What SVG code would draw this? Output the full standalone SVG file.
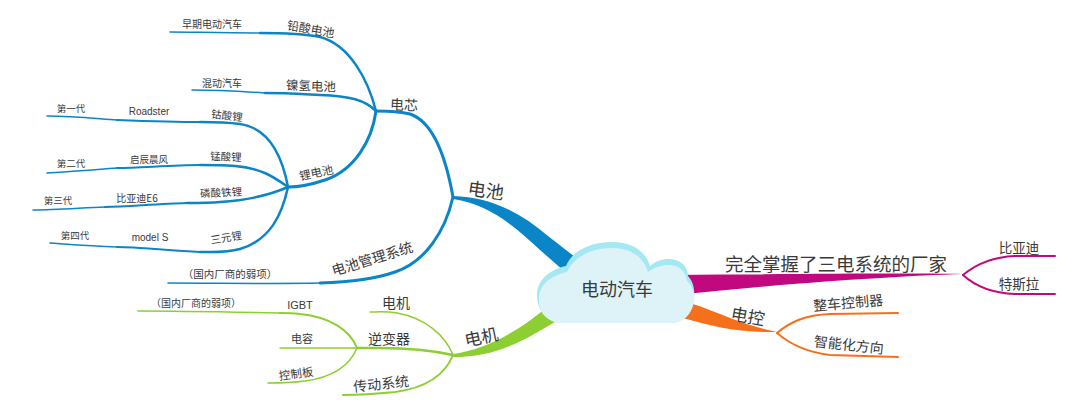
<svg xmlns="http://www.w3.org/2000/svg" width="1080" height="402" viewBox="0 0 1080 402">
<defs>
<style>
text{font-family:"Noto Sans CJK SC","Liberation Sans",sans-serif;fill:#3a3a3a;text-anchor:middle;dominant-baseline:central}
.lat{font-family:"Liberation Sans","Noto Sans CJK SC",sans-serif}
.b{fill:none;stroke:#0a86c8;stroke-linecap:round}
.g{fill:none;stroke:#8dcf32;stroke-linecap:round}
.m{fill:none;stroke:#c2087e;stroke-linecap:round}
.o{fill:none;stroke:#f5701a;stroke-linecap:round}
.w3{stroke-width:3}
.w25{stroke-width:2.5}
.w2{stroke-width:2}
.w15{stroke-width:1.5}
.s18{font-size:18px}.s14{font-size:14px}.s12{font-size:12px}.s11{font-size:11px}.s10{font-size:10px}
</style>
<clipPath id="cloudClip">
<path id="cloudShape" d="M558,323 C545,320 537,310 537,295 C537,281 548,270 566,266 C572,251 590,242 612,242 C633,242 646,252 650,266 C656,261 662,259 668,259 C680,259 688,266 688,276 C694,282 695,292 694,300 C693,312 685,322 672,323 Z"/>
</clipPath>
</defs>
<rect width="1080" height="402" fill="#ffffff"/>

<g id="connectors">
<!-- thick main branches -->
<path d="M453,196 C490,197 520,212 548,236 L584,264 L572,278 L540,250 C512,224 488,204 453,199 Z" fill="#0a86c8"/>
<path d="M453,354 C480,350 505,338 528,322 L553,303 L562,318 L536,333 C510,348 485,357 453,357 Z" fill="#8dcf32"/>
<path d="M675,275 C800,274 900,273 963,274 C900,276 800,282 675,295 Z" fill="#c2087e"/>
<path d="M683,301 C710,308 740,325 777,332 C740,333 710,326 683,318 Z" fill="#f5701a"/>

<!-- battery subtree -->
<path class="b w3" d="M453,197 C446,158 434,122 410,114 C398,111 386,111 376,111"/>
<path class="b w3" d="M453,197 C445,232 425,262 395,272 C375,279 350,282 320,283"/>
<path class="b w15" d="M320,283 C270,284 220,283 168,283"/>

<path class="b w25" d="M376,111 C368,80 350,45 320,37 C300,33 280,33 260,33"/>
<path class="b w15" d="M260,33 C220,33 190,32 170,32"/>
<path class="b w25" d="M376,111 C365,100 350,96 320,95 C300,94 285,93 265,93"/>
<path class="b w15" d="M265,93 C235,91 210,90 192,90"/>
<path class="b w3" d="M376,111 C372,140 355,170 325,180 C310,185 298,187 288,187"/>

<path class="b w25" d="M288,187 C282,155 268,128 240,124 C225,122 212,122 200,122"/>
<path class="b w2" d="M200,122 C175,122 145,121 117,120"/>
<path class="b w15" d="M117,120 C100,119 75,116 47,116"/>

<path class="b w25" d="M288,187 C275,178 262,168 235,166 C222,165 210,165 200,165"/>
<path class="b w2" d="M200,165 C170,165 140,168 117,168"/>
<path class="b w15" d="M117,168 C90,170 65,172 47,173"/>

<path class="b w25" d="M288,187 C270,195 250,200 220,202 C210,203 200,203 187,203"/>
<path class="b w2" d="M187,203 C160,204 130,206 105,207"/>
<path class="b w15" d="M105,207 C80,208 55,210 33,210"/>

<path class="b w25" d="M288,187 C282,215 270,240 240,249 C226,253 212,252 200,252"/>
<path class="b w2" d="M200,252 C170,251 140,247 117,247"/>
<path class="b w15" d="M117,247 C90,246 65,244 50,243"/>

<!-- motor subtree -->
<path class="g w15" d="M453,355 C445,335 425,318 397,313 C385,311 377,312 370,312"/>
<path class="g w25" d="M453,355 C430,350 410,348 380,348 L357,348"/>
<path class="g w2" d="M453,355 C445,375 425,388 395,392 C375,394 360,395 343,395"/>
<path class="g w2" d="M357,348 C350,330 330,317 300,314 C292,313 285,313 280,313"/>
<path class="g w15" d="M280,313 C230,312 180,311 138,311"/>
<path class="g w15" d="M357,348 L280,348"/>
<path class="g w15" d="M357,348 C350,365 335,377 305,381 C290,383 278,383 268,383"/>

<!-- right side -->
<path class="m w2" d="M963,275 C975,265 990,257 1015,256 L1055,256"/>
<path class="m w2" d="M963,275 C975,286 990,293 1015,294 L1055,294"/>
<path class="o w2" d="M777,333 C790,322 805,315 830,314 L898,313"/>
<path class="o w2" d="M777,333 C790,344 805,352 830,355 L898,357"/>
</g>

<g id="center">
<use href="#cloudShape" fill="#a4e8f4"/>
<g clip-path="url(#cloudClip)">
<path d="M558,327 C545,324 539,314 539,299 C539,285 550,276 567,272 C574,257 591,248 612,248 C632,248 644,258 648,272 C655,267 662,265 668,265 C679,265 686,271 687,281 C693,286 695,294 694,302 C693,314 685,324 672,327 Z" fill="#ddf3f8"/>
</g>
<text x="617" y="288" class="s18">电动汽车</text>
</g>

<g id="n-battery"><text x="486" y="189" class="s18" transform="rotate(8 486 189)">电池</text></g>
<g id="n-cell"><text x="404" y="104" class="s14" transform="rotate(3 404 104)">电芯</text></g>
<g id="n-lead"><text x="311" y="28" class="s12" transform="rotate(10 311 28)">铅酸电池</text></g>
<g id="n-early"><text x="212" y="23" class="s10">早期电动汽车</text></g>
<g id="n-nimh"><text x="311" y="85" style="font-size:12.5px" transform="rotate(2 311 85)">镍氢电池</text></g>
<g id="n-hybrid"><text x="222" y="82" class="s10">混动汽车</text></g>
<g id="n-li"><text x="316" y="172" style="font-size:11.5px" transform="rotate(-12 316 172)">锂电池</text></g>

<g id="n-lco"><text x="227" y="115" style="font-size:10.5px" transform="rotate(7 227 115)">钴酸锂</text></g>
<g id="n-roadster"><text x="149" y="111" class="s10 lat">Roadster</text></g>
<g id="n-gen1"><text x="71" y="108" style="font-size:9.5px">第一代</text></g>

<g id="n-lmo"><text x="226" y="156" style="font-size:10.5px" transform="rotate(2 226 156)">锰酸锂</text></g>
<g id="n-venucia"><text x="149" y="159" style="font-size:9.5px">启辰晨风</text></g>
<g id="n-gen2"><text x="71" y="163" style="font-size:9.5px">第二代</text></g>

<g id="n-lfp"><text x="221" y="192" style="font-size:10.5px" transform="rotate(-3 221 192)">磷酸铁锂</text></g>
<g id="n-e6"><text x="137" y="197" class="s10">比亚迪E6</text></g>
<g id="n-gen3"><text x="58" y="200" style="font-size:9.5px">第三代</text></g>

<g id="n-ncm"><text x="226" y="237" style="font-size:10.5px" transform="rotate(-9 226 237)">三元锂</text></g>
<g id="n-models"><text x="150" y="237" class="s10 lat">model S</text></g>
<g id="n-gen4"><text x="75" y="235" style="font-size:9.5px">第四代</text></g>

<g id="n-bms"><text x="372" y="258" class="s14" transform="rotate(-17 372 258)">电池管理系统</text></g>
<g id="n-bms-note"><text x="230" y="273" style="font-size:10.5px">（国内厂商的弱项）</text></g>

<g id="n-motor"><text x="481" y="336" style="font-size:17px" transform="rotate(-12 481 336)">电机</text></g>
<g id="n-motor-sub"><text x="396" y="302" class="s14">电机</text></g>
<g id="n-inverter"><text x="389" y="338" class="s14">逆变器</text></g>
<g id="n-trans"><text x="381" y="383" class="s14" transform="rotate(-6 381 383)">传动系统</text></g>
<g id="n-igbt"><text x="300" y="305" class="s11 lat">IGBT</text></g>
<g id="n-igbt-note"><text x="196" y="302" class="s10">（国内厂商的弱项）</text></g>
<g id="n-cap"><text x="302" y="338" class="s11">电容</text></g>
<g id="n-board"><text x="296" y="373" style="font-size:11.5px" transform="rotate(-8 296 373)">控制板</text></g>

<g id="n-full"><text x="836" y="263" style="font-size:18.5px">完全掌握了三电系统的厂家</text></g>
<g id="n-byd"><text x="1019" y="247" style="font-size:13.5px">比亚迪</text></g>
<g id="n-tesla"><text x="1019" y="283" style="font-size:13.5px">特斯拉</text></g>

<g id="n-control"><text x="748" y="315" style="font-size:17px" transform="rotate(10 748 315)">电控</text></g>
<g id="n-vcu"><text x="848" y="302" class="s14" transform="rotate(-5 848 302)">整车控制器</text></g>
<g id="n-smart"><text x="849" y="344" class="s14" transform="rotate(6 849 344)">智能化方向</text></g>
</svg>
